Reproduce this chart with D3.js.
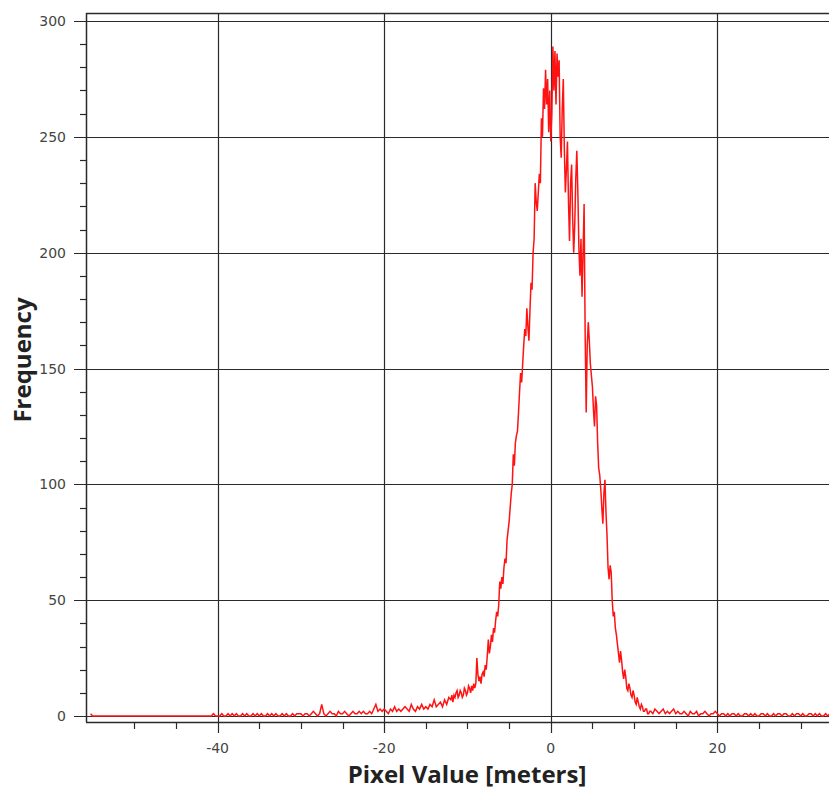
<!DOCTYPE html>
<html>
<head>
<meta charset="utf-8">
<script src="https://cdn.jsdelivr.net/npm/d3@7"></script>
<style>
  html, body { margin: 0; padding: 0; background: #fff; }
  svg { display: block; }
</style>
</head>
<body>
<svg id="chart" width="829" height="789"></svg>
<script>
// ---- Data ----
// Left tail: bins from -55.25 to -12.25, width 0.25 m
const leftStart = -55.25, leftStep = 0.25;
const countsLeftTail = [
  1,0,0,0,0,0,0,0,0,0, 0,0,0,0,0,0,0,0,0,0, 0,0,0,0,0,0,0,0,0,0,
  0,0,0,0,0,0,0,0,0,0, 0,0,0,0,0,0,0,0,0,0, 0,0,0,0,0,0,0,0,0,1, 0,
  0,0,1,0,0,1,0,1,0,1, 0,0,1,0,1,0,0,1,0,1, 0,1,0,0,1,0,1,0,1,0, 0,1,0,1,0,0,1,0,1,1,
  1,0,1,1,0,1,2,1,0,1, 5,1,0,1,2,1,1,0,2,1, 1,2,1,0,1,2,1,1,2,1, 2,1,1,2,1,3,5,2,3,2,
  3,2,1,3,2,4,2,3,2,3, 4,3,2,5,3,2,4,3,5,3,
  4,3,5,4,7,4,5,6,4,7,5,8
];
// Core: bins from -12 to 12, width 0.125 m (one row per metre)
const coreStart = -12, coreStep = 0.125;
const countsCore = [
  7,9,6,9,8,10,11,8,
  9,11,10,8,9,12,11,9,
  10,13,12,10,13,11,14,12,
  14,25,18,15,17,14,18,19,
  17,22,20,26,33,27,30,35,
  32,38,36,41,45,43,48,58,
  55,60,57,64,68,66,76,80,
  84,90,96,100,113,108,118,121,
  123,131,140,148,144,152,160,167,
  164,176,168,162,175,187,184,200,
  206,230,222,218,226,234,230,258,
  250,271,262,279,264,275,252,270,
  248,260,289,270,287,264,286,276,
  283,250,241,262,275,245,226,236,
  248,222,205,230,238,215,200,212,
  232,244,226,202,190,206,181,200,
  221,165,131,160,170,162,152,147,
  142,132,125,138,134,118,107,104,
  98,90,83,96,102,88,78,64,
  59,65,62,50,43,45,38,35,
  31,27,23,28,24,19,16,20,
  17,12,11,14,12,9,8,11,
  9,6,5,8,6,4,3,5,
  4,2,2,3,3,1,1,2,
  2
];
// Right tail: bins from 12.25 to 34, width 0.25 m
const rightStart = 12.25, rightStep = 0.25;
const countsRightTail = [
  1,3,2,1,2,3,1,2,1,2,3,1,
  2,1,1,2,1,0,2,1,1,2,0,1,1,2,1,0,1,1,2,
  1,0,1,1,0,1,0,1,1,0, 1,0,0,1,1,0,1,0,1,0, 0,1,1,0,1,0,0,1,0,1,
  1,0,1,1,0,0,1,0,1,1, 0,1,0,0,1,1,0,1,0,1, 0,0,1,0,1,0
];

const xMajorTicks = [-40, -20, 0, 20];
const xMinorTicks = [-50, -45, -35, -30, -25, -15, -10, -5, 5, 10, 15, 25, 30];
const yMajorTicks = [0, 50, 100, 150, 200, 250, 300];
const yMinorTicks = [10,20,30,40,60,70,80,90,110,120,130,140,160,170,180,190,210,220,230,240,260,270,280,290];

const xTitle = "Pixel Value [meters]";
const yTitle = "Frequency";

// ---- Build series ----
const series = []
  .concat(countsLeftTail.map((c, i) => ({ x: leftStart + i * leftStep, y: c })))
  .concat(countsCore.map((c, i) => ({ x: coreStart + i * coreStep, y: c })))
  .concat(countsRightTail.map((c, i) => ({ x: rightStart + i * rightStep, y: c })));

// ---- Layout ----
const plotL = 86, plotR = 829, plotT = 13, axisY = 722;

const x = d3.scaleLinear().domain([-55.8, 33.4]).range([plotL, plotR]);
const y = d3.scaleLinear().domain([0, 300]).range([716, 21]);

const svg = d3.select("#chart");
const font = "'DejaVu Sans', Verdana, sans-serif";
const ink = "#2a2a2a";

svg.append("defs").append("clipPath").attr("id", "clip")
  .append("rect").attr("x", plotL).attr("y", plotT).attr("width", plotR - plotL).attr("height", axisY - plotT);

// horizontal gridlines (major) with left tick
svg.append("g").selectAll("line").data(yMajorTicks).join("line")
  .attr("x1", plotL - 12).attr("x2", plotR)
  .attr("y1", d => Math.round(y(d)) + 0.5).attr("y2", d => Math.round(y(d)) + 0.5)
  .attr("stroke", ink).attr("stroke-width", 1.2);

// minor y ticks
svg.append("g").selectAll("line").data(yMinorTicks).join("line")
  .attr("x1", plotL - 6).attr("x2", plotL)
  .attr("y1", d => Math.round(y(d)) + 0.5).attr("y2", d => Math.round(y(d)) + 0.5)
  .attr("stroke", ink).attr("stroke-width", 1.2);

// vertical gridlines (major) with bottom tick
svg.append("g").selectAll("line").data(xMajorTicks).join("line")
  .attr("x1", d => Math.round(x(d)) + 0.5).attr("x2", d => Math.round(x(d)) + 0.5)
  .attr("y1", plotT).attr("y2", axisY + 11)
  .attr("stroke", ink).attr("stroke-width", 1.2);

// minor x ticks
svg.append("g").selectAll("line").data(xMinorTicks).join("line")
  .attr("x1", d => Math.round(x(d)) + 0.5).attr("x2", d => Math.round(x(d)) + 0.5)
  .attr("y1", axisY).attr("y2", axisY + 7)
  .attr("stroke", ink).attr("stroke-width", 1.2);

// frame: top, left, bottom
svg.append("line").attr("x1", plotL).attr("x2", plotR).attr("y1", plotT + 0.5).attr("y2", plotT + 0.5)
  .attr("stroke", ink).attr("stroke-width", 1.5);
svg.append("line").attr("x1", plotL + 0.5).attr("x2", plotL + 0.5).attr("y1", plotT).attr("y2", axisY)
  .attr("stroke", ink).attr("stroke-width", 1.5);
svg.append("line").attr("x1", plotL).attr("x2", plotR).attr("y1", axisY + 0.5).attr("y2", axisY + 0.5)
  .attr("stroke", ink).attr("stroke-width", 1.5);

// data line
const line = d3.line().x(d => x(d.x)).y(d => y(d.y));
svg.append("path").datum(series)
  .attr("clip-path", "url(#clip)")
  .attr("d", line)
  .attr("fill", "none").attr("stroke", "#ff1212").attr("stroke-width", 1.5)
  .attr("stroke-linejoin", "miter");

// y tick labels
svg.append("g").selectAll("text").data(yMajorTicks).join("text")
  .attr("x", 66).attr("y", d => y(d)).attr("dy", "0.36em")
  .attr("text-anchor", "end")
  .attr("font-family", font).attr("font-size", 14).attr("fill", "#444")
  .text(d => d);

// x tick labels
svg.append("g").selectAll("text").data(xMajorTicks).join("text")
  .attr("x", d => x(d)).attr("y", 753)
  .attr("text-anchor", "middle")
  .attr("font-family", font).attr("font-size", 14).attr("fill", "#444")
  .text(d => d);

// axis titles
svg.append("text")
  .attr("x", 467).attr("y", 783).attr("text-anchor", "middle")
  .attr("font-family", "'Open Sans', sans-serif").attr("font-weight", "bold")
  .attr("font-size", 24).attr("fill", "#222")
  .text(xTitle);

svg.append("text")
  .attr("transform", "translate(31,360) rotate(-90)")
  .attr("text-anchor", "middle")
  .attr("font-family", "'Open Sans', sans-serif").attr("font-weight", "bold")
  .attr("font-size", 24).attr("fill", "#222")
  .text(yTitle);
</script>
</body>
</html>
